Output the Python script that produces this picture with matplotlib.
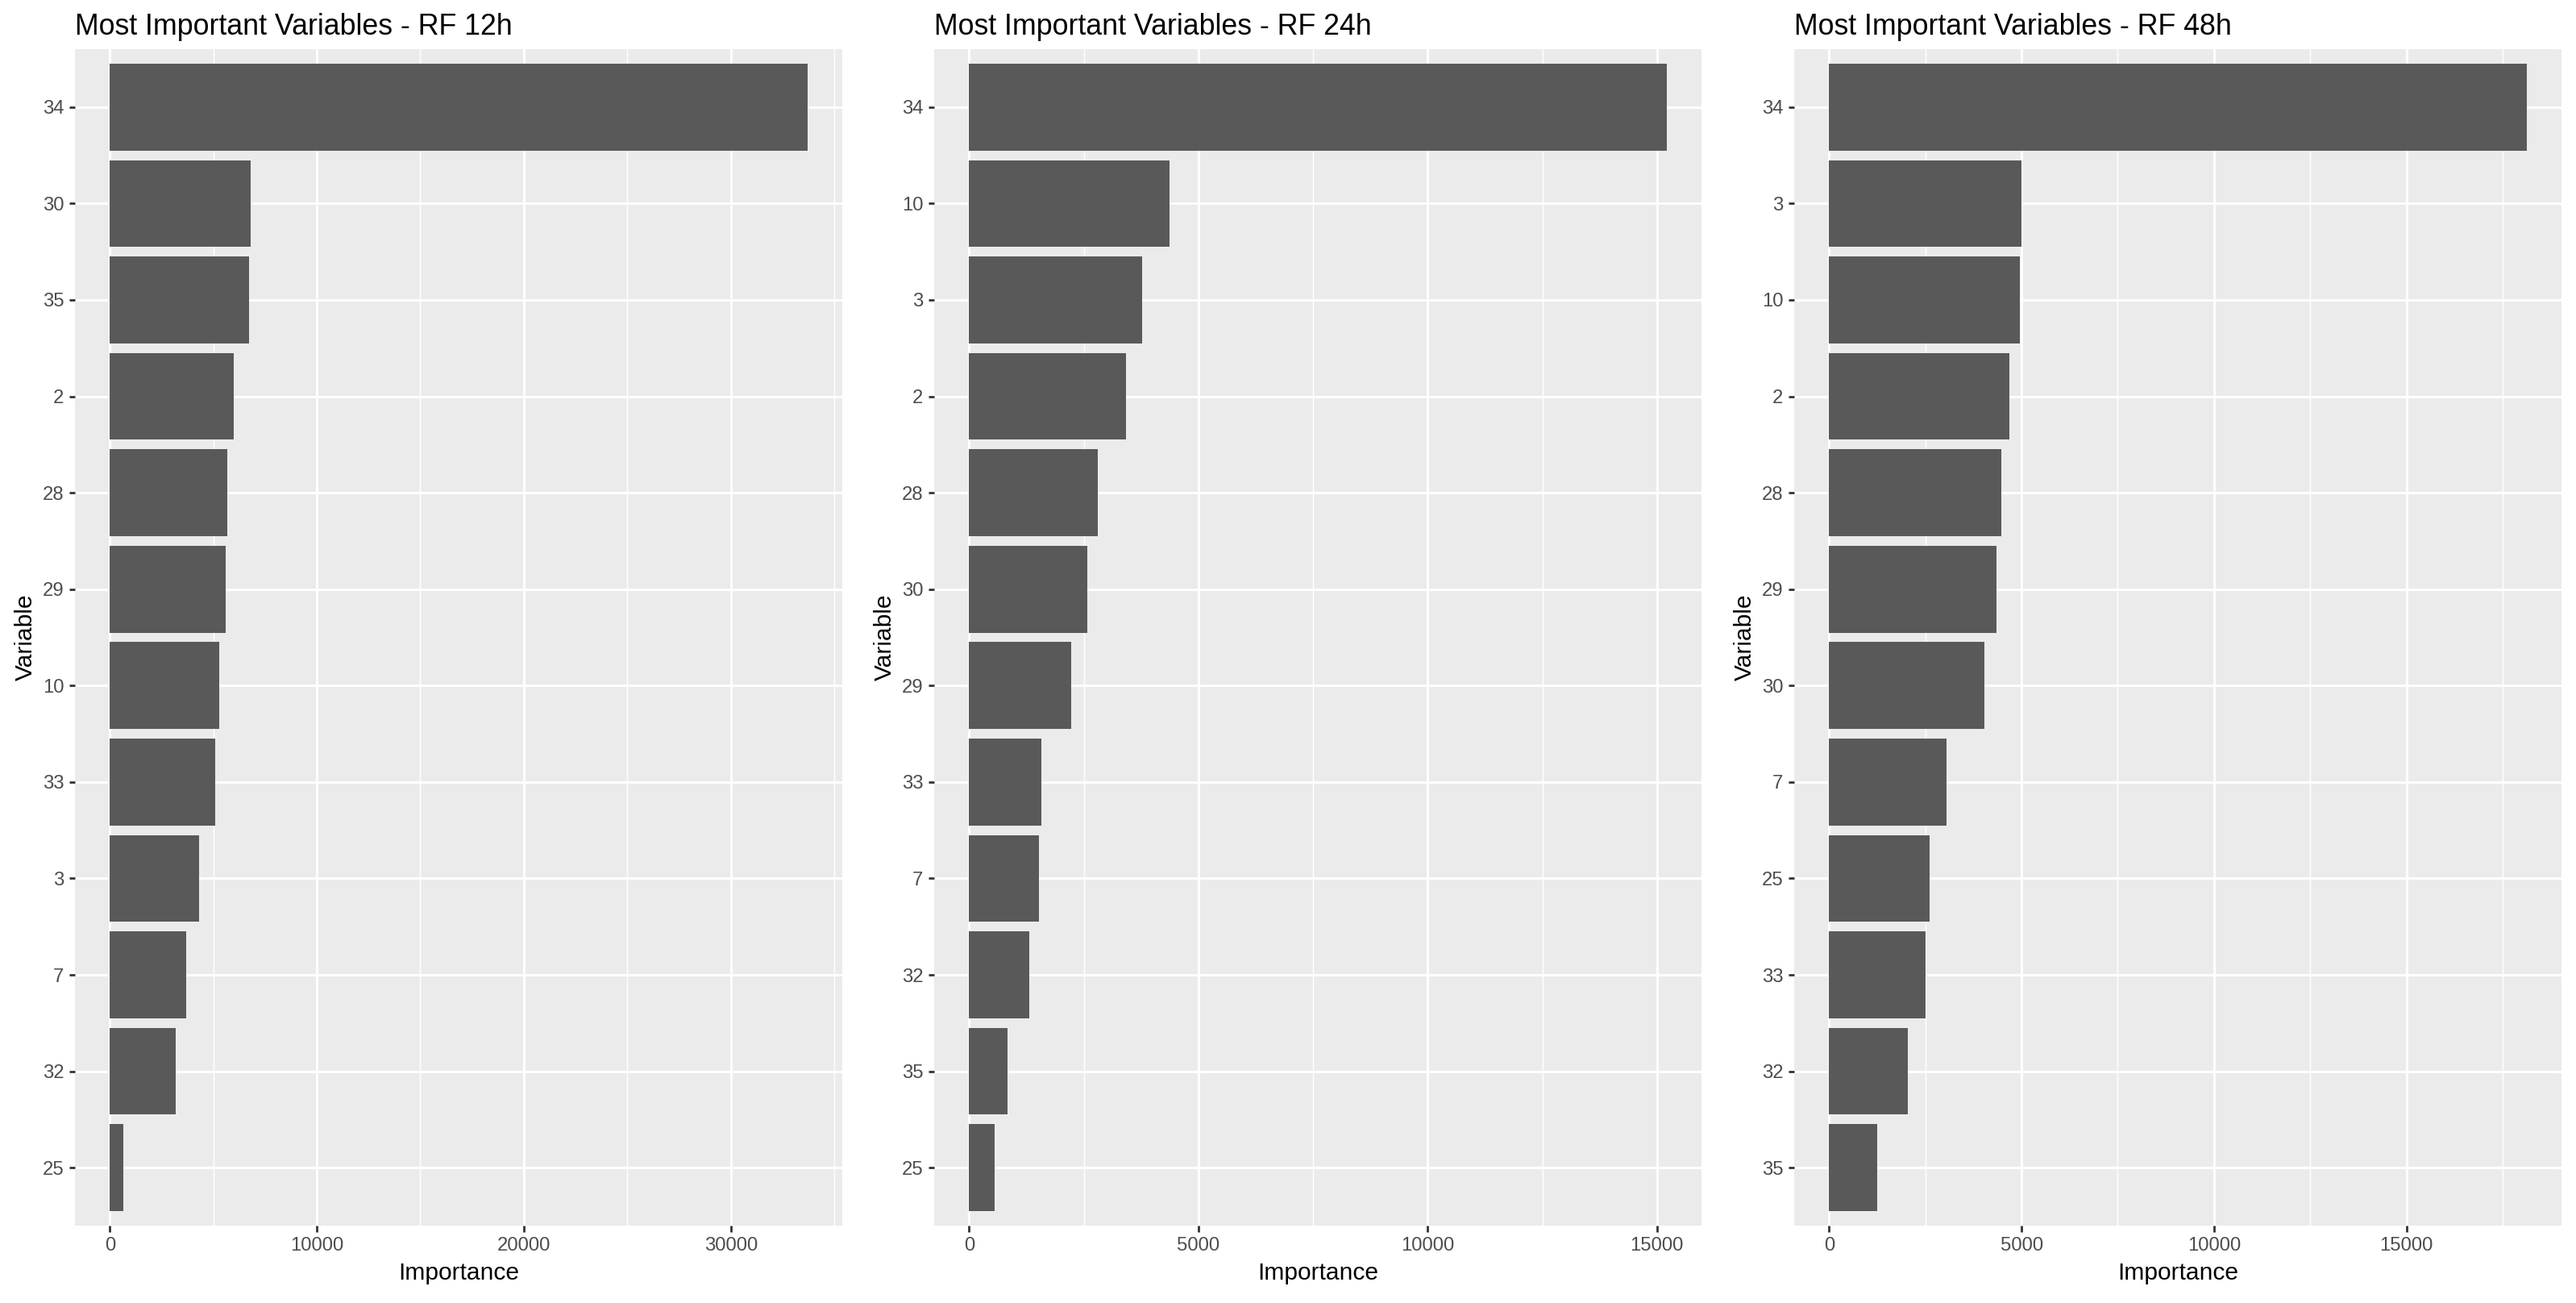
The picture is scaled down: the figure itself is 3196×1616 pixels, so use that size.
import numpy as np
import matplotlib
matplotlib.use("Agg")
import matplotlib.pyplot as plt
from matplotlib.ticker import MultipleLocator, FuncFormatter

plt.rcParams['font.family'] = ['Liberation Sans', 'DejaVu Sans']

# ---- data (top bar first) ----
titles = ["Most Important Variables - RF 12h",
          "Most Important Variables - RF 24h",
          "Most Important Variables - RF 48h"]

vars_12h = ['34', '30', '35', '2', '28', '29', '10', '33', '3', '7', '32', '25']
imp_12h = [33700, 6790, 6710, 5980, 5660, 5590, 5270, 5100, 4310, 3670, 3190, 640]

vars_24h = ['34', '10', '3', '2', '28', '30', '29', '33', '7', '32', '35', '25']
imp_24h = [15210, 4370, 3780, 3420, 2810, 2580, 2220, 1570, 1530, 1320, 840, 550]

vars_48h = ['34', '3', '10', '2', '28', '29', '30', '7', '25', '33', '32', '35']
imp_48h = [18120, 5000, 4955, 4690, 4470, 4345, 4040, 3045, 2605, 2515, 2045, 1260]

major_steps = [10000, 5000, 5000]

panels = [(vars_12h, imp_12h), (vars_24h, imp_24h), (vars_48h, imp_48h)]

W, H = 3196, 1616
DPI = 200
fig = plt.figure(figsize=(W / DPI, H / DPI), dpi=DPI, facecolor='white')

lefts_px = [93, 1159, 2226]
width_px = 952
top_px, bottom_px = 61, 1520

BG = '#EBEBEB'
BAR = '#595959'

for i, ((cats, vals), title, step) in enumerate(zip(panels, titles, major_steps)):
    ax = fig.add_axes([lefts_px[i] / W, 1 - bottom_px / H,
                       width_px / W, (bottom_px - top_px) / H])
    ax.set_facecolor(BG)
    n = len(cats)
    ypos = np.arange(n, 0, -1)
    ax.barh(ypos, vals, height=0.9, color=BAR, edgecolor='none', zorder=2)
    m = max(vals)
    ax.set_xlim(-0.05 * m, 1.05 * m)
    ax.set_ylim(0.4, n + 0.6)
    ax.set_yticks(ypos)
    ax.set_yticklabels(cats)
    ax.xaxis.set_major_locator(MultipleLocator(step))
    ax.xaxis.set_minor_locator(MultipleLocator(step / 2))
    ax.xaxis.set_major_formatter(FuncFormatter(lambda v, p: f"{int(round(v))}"))
    ax.set_axisbelow(True)
    ax.grid(which='major', axis='both', color='white', linewidth=1.05, zorder=0)
    ax.grid(which='minor', axis='x', color='white', linewidth=0.52, zorder=0)
    for s in ax.spines.values():
        s.set_visible(False)
    ax.tick_params(which='major', length=2.7, width=1.0, color='#333333',
                   labelcolor='#4D4D4D', labelsize=8.6, pad=2.2)
    ax.tick_params(which='minor', length=0)
    ax.set_xlabel('Importance', fontsize=10.8, color='black', labelpad=3.5)
    ax.set_ylabel('Variable', fontsize=10.8, color='black', labelpad=2.5)
    ax.set_title(title, loc='left', fontsize=12.9, color='black', pad=6.5)

fig.savefig('out.png', dpi=DPI, facecolor='white')
